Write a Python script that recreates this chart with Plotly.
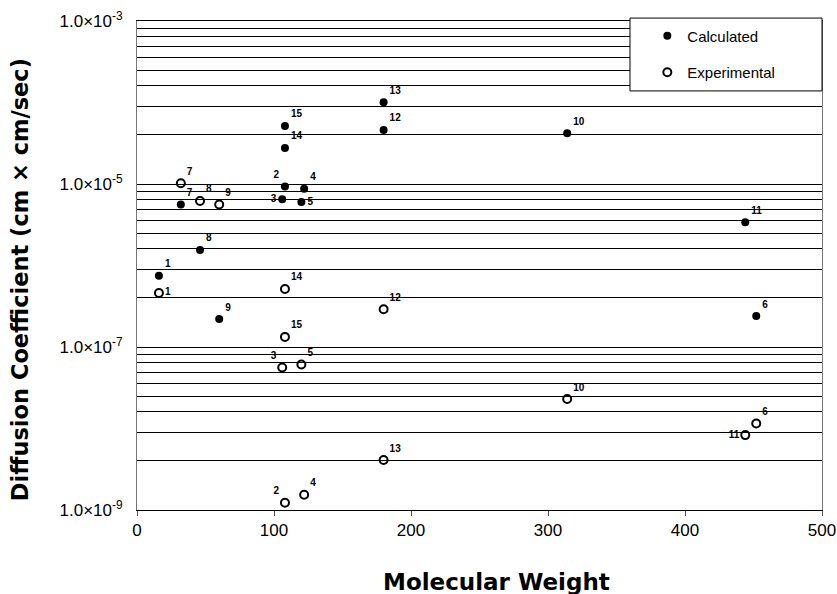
import plotly.graph_objects as go

# Data
ids = ["1", "2", "3", "4", "5", "6", "7", "8", "9", "10", "11", "12", "13", "14", "15"]
mol_weight = [16, 108, 106, 122, 120, 452, 32, 46, 60, 314, 444, 180, 180, 108, 108]
calculated = [7.5e-7, 9.3e-6, 6.5e-6, 8.75e-6, 6.0e-6, 2.4e-7, 5.6e-6, 1.55e-6, 2.2e-7,
              4.2e-5, 3.4e-6, 4.6e-5, 1.01e-4, 2.77e-5, 5.15e-5]
experimental = [4.6e-7, 1.23e-9, 5.6e-8, 1.54e-9, 6.1e-8, 1.15e-8, 1.02e-5, 6.2e-6, 5.6e-6,
                2.3e-8, 8.3e-9, 2.9e-7, 4.1e-9, 5.15e-7, 1.33e-7]
y_label_vals = {1e-9: "1.0×10<sup>-9</sup>", 1e-7: "1.0×10<sup>-7</sup>",
                1e-5: "1.0×10<sup>-5</sup>", 1e-3: "1.0×10<sup>-3</sup>"}
x_tick_vals = [0, 100, 200, 300, 400, 500]

# label placement (style)
calc_pos = ["top right", "top left", "middle left", "top right", "middle right", "top right",
            "top right", "top right", "top right", "top right", "top right", "top right",
            "top right", "top right", "top right"]
exp_pos = ["middle right", "top left", "top left", "top right", "top right", "top right",
           "top right", "top right", "top right", "top right", "middle left", "top right",
           "top right", "top right", "top right"]

# gridline positions as in the reference (major unit 100, minor steps k^2)
grid_vals = sorted(set([k * k * 10.0 ** e for e in (-9, -7, -5) for k in range(1, 11)]))
grid_text = []
for v in grid_vals:
    lab = ""
    for key, txt in y_label_vals.items():
        if abs(v - key) / key < 1e-6:
            lab = txt
    grid_text.append(lab)

label_font = dict(family="Liberation Sans", size=10, color="black")

fig = go.Figure()
fig.add_trace(go.Scatter(
    x=mol_weight, y=calculated, mode="markers+text", name="Calculated",
    legendgroup="c",
    text=["<b>%s</b>" % t for t in ids], textposition=calc_pos, textfont=label_font,
    marker=dict(symbol="circle", size=8, color="black"),
))
fig.add_trace(go.Scatter(
    x=mol_weight, y=experimental, mode="markers+text", name="Experimental",
    legendgroup="e",
    text=["<b>%s</b>" % t for t in ids], textposition=exp_pos, textfont=label_font,
    marker=dict(symbol="circle-open", size=8, color="black", line=dict(width=2, color="black")),
))

# legend frame
fig.add_shape(type="rect", xref="paper", yref="paper", x0=0.7197, x1=1.0, y0=0.857, y1=1.006,
              fillcolor="white", line=dict(color="black", width=1), layer="above")

# axis titles
fig.add_annotation(text="<b>Molecular Weight</b>", xref="paper", yref="paper",
                   x=0.5255, y=-0.147, xanchor="center", yanchor="middle", showarrow=False,
                   font=dict(family="DejaVu Sans", size=23, color="black"))
fig.add_annotation(text="<b>Diffusion Coefficient (cm × cm/sec)</b>", xref="paper", yref="paper",
                   x=-0.1708, y=0.470, xanchor="center", yanchor="middle", showarrow=False,
                   textangle=-90, font=dict(family="DejaVu Sans", size=22.5, color="black"))

fig.update_layout(
    width=837, height=594,
    margin=dict(l=137, r=15, t=21, b=84, autoexpand=False),
    paper_bgcolor="white", plot_bgcolor="white",
    font=dict(family="Liberation Sans", color="black"),
    showlegend=True,
    legend=dict(
        x=0.745, y=1.003, xanchor="left", yanchor="top",
        bgcolor="rgba(0,0,0,0)", borderwidth=0,
        font=dict(family="Liberation Sans", size=15, color="black"),
        itemsizing="trace", tracegroupgap=14,
    ),
    xaxis=dict(
        range=[0, 500], tickvals=x_tick_vals, ticks="outside", ticklen=5,
        tickcolor="#555", showgrid=False, zeroline=False, automargin=False,
        showline=True, linecolor="black", linewidth=1, mirror=True,
        tickfont=dict(family="Liberation Sans", size=17),
    ),
    yaxis=dict(
        type="log", range=[-9, -3], tickvals=grid_vals, ticktext=grid_text,
        ticks="", automargin=False, ticklabelstandoff=10,
        showgrid=True, gridcolor="black", gridwidth=1,
        showline=True, linecolor="#777", linewidth=1, mirror=True,
        tickfont=dict(family="Liberation Sans", size=17),
    ),
)

fig.write_html("out.html",
               config={"displayModeBar": False},
               post_script="document.body.style.margin='0';document.body.style.overflow='hidden';")
